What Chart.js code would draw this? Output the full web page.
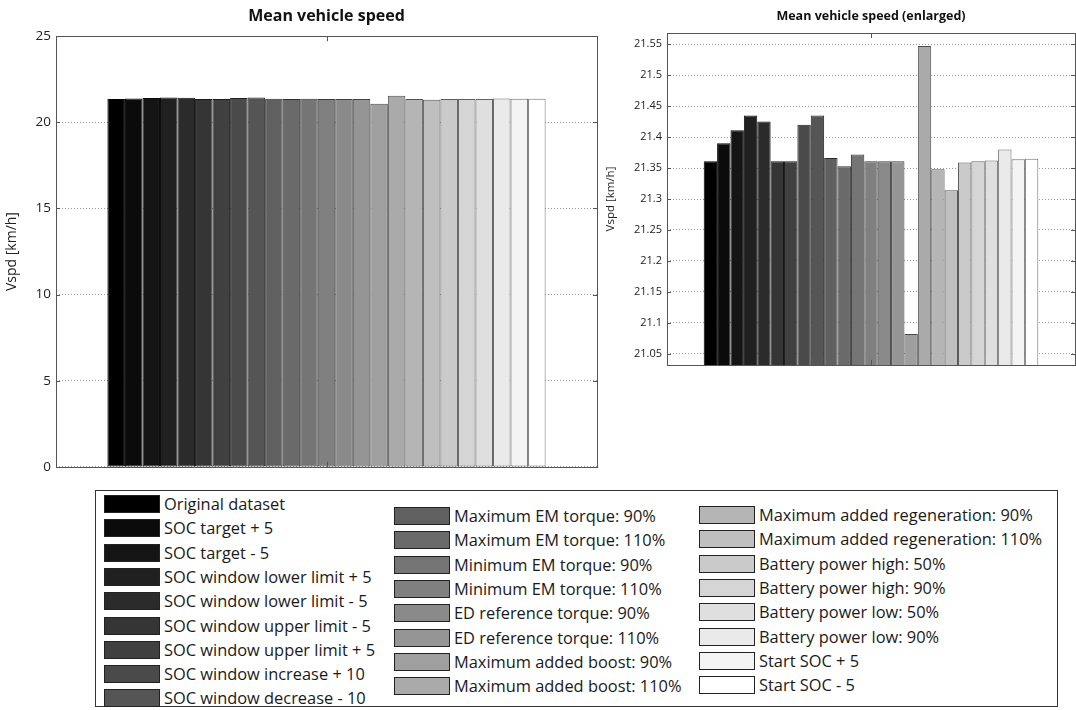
<!DOCTYPE html>
<html>
<head>
<meta charset="utf-8">
<script src="https://cdn.jsdelivr.net/npm/chart.js@4.4.1/dist/chart.umd.min.js"></script>
<style>
  body { margin: 0; background: #fff; width: 1076px; height: 710px; overflow: hidden; font-family: 'Open Sans', sans-serif; }
  #left-wrap { position: absolute; left: 0; top: 0; width: 600px; height: 480px; }
  #right-wrap { position: absolute; left: 600px; top: 0; width: 476px; height: 380px; }
  #legend { position: absolute; left: 95px; top: 490px; width: 963px; height: 217px; border: 1px solid #333; box-sizing: border-box; }
  .item { position: absolute; height: 19px; white-space: nowrap; }
  .swatch { position: absolute; left: 0; top: 0; width: 54px; height: 16px; border: 1.5px solid #222; }
  .txt { position: absolute; left: 60px; top: -2px; font-size: 16.4px; color: #1a1a1a; line-height: 21px; }
</style>
</head>
<body>
<div id="left-wrap"><canvas id="left-chart"></canvas></div>
<div id="right-wrap"><canvas id="right-chart"></canvas></div>
<div id="legend"></div>
<script>
const scenarios = [
    'Original dataset',
    'SOC target + 5',
    'SOC target - 5',
    'SOC window lower limit + 5',
    'SOC window lower limit - 5',
    'SOC window upper limit - 5',
    'SOC window upper limit + 5',
    'SOC window increase + 10',
    'SOC window decrease - 10',
    'Maximum EM torque: 90%',
    'Maximum EM torque: 110%',
    'Minimum EM torque: 90%',
    'Minimum EM torque: 110%',
    'ED reference torque: 90%',
    'ED reference torque: 110%',
    'Maximum added boost: 90%',
    'Maximum added boost: 110%',
    'Maximum added regeneration: 90%',
    'Maximum added regeneration: 110%',
    'Battery power high: 50%',
    'Battery power high: 90%',
    'Battery power low: 50%',
    'Battery power low: 90%',
    'Start SOC + 5',
    'Start SOC - 5',
];
// mean vehicle speed [km/h] per scenario
const vspd = [
    21.361, 21.390, 21.411, 21.435, 21.425, 21.361, 21.361, 21.420, 21.435,
    21.366, 21.353, 21.372, 21.361, 21.361, 21.361, 21.082, 21.547,
    21.348, 21.314, 21.359, 21.361, 21.362, 21.380, 21.364, 21.365,
];
const leftTicks = [0, 5, 10, 15, 20, 25];
const rightTicks = [21.05, 21.1, 21.15, 21.2, 21.25, 21.3, 21.35, 21.4, 21.45, 21.5, 21.55];
const legendColumns = [9, 8, 8];

// gray colormap, black -> white, edges a darker shade of the fill
const grayLevels = scenarios.map((s, i) => Math.round(i * 255 / (scenarios.length - 1)));
const rgb = g => 'rgb(' + g + ',' + g + ',' + g + ')';
const grays = grayLevels.map(rgb);
const edges = grayLevels.map(g => rgb(Math.round(g * 0.45)));

const boxPlugin = {
    id: 'box',
    afterDraw: function(chart) {
        const a = chart.chartArea;
        const ctx = chart.ctx;
        const y = chart.scales.y;
        ctx.save();
        ctx.strokeStyle = '#555';
        ctx.lineWidth = 1;
        ctx.strokeRect(Math.round(a.left) + 0.5, Math.round(a.top) + 0.5,
            Math.round(a.right - a.left), Math.round(a.bottom - a.top));
        ctx.beginPath();
        y.ticks.forEach(t => {
            const py = Math.round(y.getPixelForValue(t.value)) + 0.5;
            ctx.moveTo(a.left, py); ctx.lineTo(a.left + 4, py);
            ctx.moveTo(a.right, py); ctx.lineTo(a.right - 4, py);
        });
        const cx = Math.round((a.left + a.right) / 2) + 0.5;
        ctx.moveTo(cx, a.top); ctx.lineTo(cx, a.top + 5);
        ctx.moveTo(cx, a.bottom); ctx.lineTo(cx, a.bottom - 5);
        ctx.stroke();
        ctx.restore();
    }
};

function makeChart(id, opts) {
    'use strict';
    const ctx = document.querySelector(id).getContext('2d');
    const datasets = scenarios.map((name, i) => ({
        label: name,
        data: [vspd[i]],
        backgroundColor: grays[i],
        borderColor: edges[i],
        borderWidth: 1,
        borderSkipped: false,
        inflateAmount: 0,
    }));
    return new Chart(ctx, {
        type: 'bar',
        data: {labels: [''], datasets: datasets},
        options: {
            animation: false,
            responsive: true,
            maintainAspectRatio: false,
            layout: {padding: opts.padding},
            datasets: {
                bar: {
                    barPercentage: 1,
                    categoryPercentage: opts.catPct,
                },
            },
            scales: {
                x: {display: false},
                y: {
                    min: opts.min,
                    max: opts.max,
                    afterBuildTicks: function(scale) {
                        scale.ticks = opts.ticks.map(v => ({value: v}));
                    },
                    afterFit: function(scale) {
                        scale.width = opts.axisWidth;
                    },
                    grid: {
                        drawTicks: false,
                        color: '#9a9a9a',
                        lineWidth: 1,
                    },
                    border: {display: false, dash: [1, 2]},
                    ticks: {
                        padding: 5,
                        color: '#222',
                        font: {family: 'Open Sans', size: opts.tickSize},
                        callback: v => String(Math.round(v * 100) / 100),
                    },
                    title: {
                        display: true,
                        text: 'Vspd [km/h]',
                        color: '#222',
                        font: {family: 'Open Sans', size: opts.labelSize},
                        padding: opts.labelPad,
                    },
                },
            },
            plugins: {
                legend: {display: false},
                tooltip: {enabled: false},
                title: {
                    display: true,
                    fullSize: false,
                    text: opts.title,
                    color: '#111',
                    font: {family: 'Open Sans', size: opts.titleSize, weight: 'bold'},
                    padding: opts.titlePad,
                },
            },
        },
        plugins: [boxPlugin],
    });
}

makeChart('#left-chart', {
    title: 'Mean vehicle speed',
    titleSize: 16,
    titlePad: {top: 7, bottom: 10},
    min: 0, max: 25, ticks: leftTicks,
    axisWidth: 56, tickSize: 13.5, labelSize: 14, labelPad: {top: 4, bottom: 0},
    padding: {left: 0, right: 3, top: 0, bottom: 10},
    catPct: 0.81,
});

makeChart('#right-chart', {
    title: 'Mean vehicle speed (enlarged)',
    titleSize: 12.5,
    titlePad: {top: 9, bottom: 9},
    min: 21.032, max: 21.568, ticks: rightTicks,
    axisWidth: 67, tickSize: 11, labelSize: 11.5, labelPad: {top: 4, bottom: 0},
    padding: {left: 0, right: 1, top: 0, bottom: 15},
    catPct: 0.82,
});

// legend, filled column by column
const legend = document.querySelector('#legend');
const colX = [8, 298, 603];
const colY = [4, 16, 15];
const step = 24.3;
let idx = 0;
legendColumns.forEach((count, c) => {
    for (let r = 0; r < count; ++r, ++idx) {
        const item = document.createElement('div');
        item.className = 'item';
        item.style.left = colX[c] + 'px';
        item.style.top = (colY[c] + r * step) + 'px';
        const sw = document.createElement('div');
        sw.className = 'swatch';
        sw.style.background = grays[idx];
        const tx = document.createElement('div');
        tx.className = 'txt';
        tx.textContent = scenarios[idx];
        item.appendChild(sw);
        item.appendChild(tx);
        legend.appendChild(item);
    }
});
</script>
</body>
</html>
